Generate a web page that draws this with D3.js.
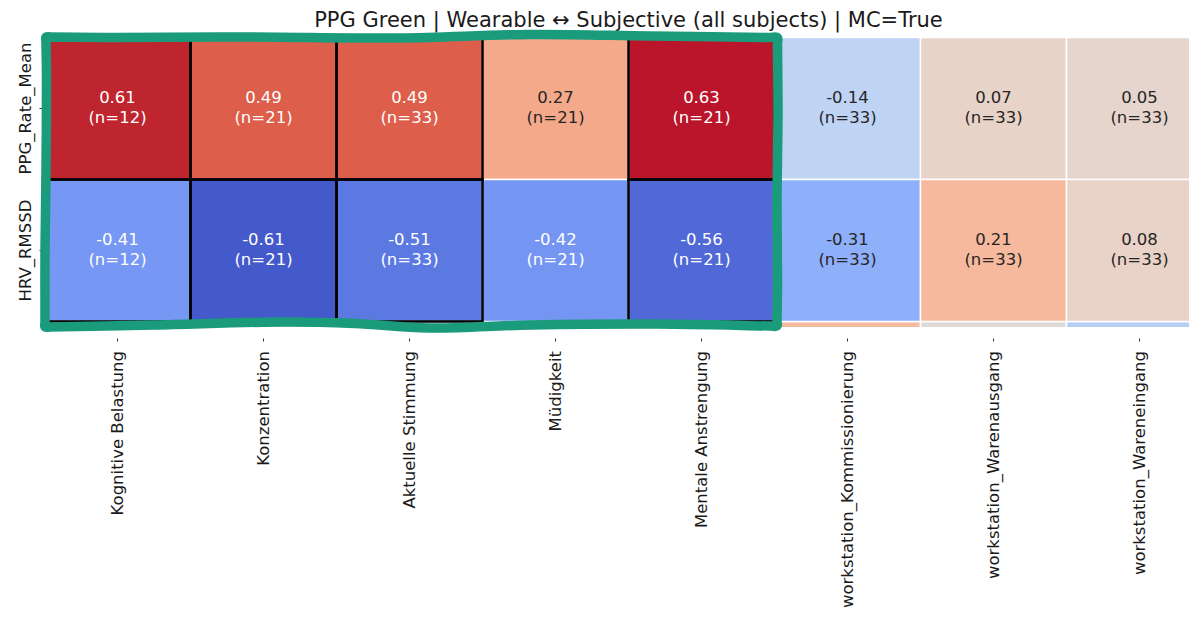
<!DOCTYPE html>
<html>
  <head>
    <title>PPG Green heatmap</title>
    <script src="https://d3js.org/d3.v7.min.js"></script>
    <style>
        body { margin: 0; background: #fff; }
        text { font-family: "DejaVu Sans", sans-serif; }
    </style>
  </head>
  <body>
    <svg id="heat" width="1189" height="617"></svg>
  </body>
  <script type="text/javascript">
    var title = "PPG Green | Wearable \u2194 Subjective (all subjects) | MC=True";
    var cols = ["Kognitive Belastung", "Konzentration", "Aktuelle Stimmung", "M\u00fcdigkeit",
                "Mentale Anstrengung", "workstation_Kommissionierung", "workstation_Warenausgang",
                "workstation_Wareneingang"];
    var rows = ["PPG_Rate_Mean", "HRV_RMSSD"];
    var rateR = [0.61, 0.49, 0.49, 0.27, 0.63, -0.14, 0.07, 0.05];
    var rateN = [12, 21, 33, 21, 21, 33, 33, 33];
    var rmssdR = [-0.41, -0.61, -0.51, -0.42, -0.56, -0.31, 0.21, 0.08];
    var rmssdN = [12, 21, 33, 21, 21, 33, 33, 33];
    var sigCols = ["Kognitive Belastung", "Konzentration", "Aktuelle Stimmung", "Mentale Anstrengung"];
    var boxCols = cols.slice(0, 5);
    // top of the next (cut off) row, only visible on the right
    var nextRowR = [null, null, null, null, null, 0.2, 0.0, -0.17];

    // coolwarm-like colour stops
    var cmapStops = [-0.65, -0.55, -0.42, -0.3, -0.14, 0, 0.1, 0.21, 0.27, 0.49, 0.61, 0.65];
    var cmapColors = ["#3b4cc0", "#526cd9", "#7495f2", "#90b1fa", "#bfd3f5", "#e0dad6",
                      "#ebd0c3", "#f6b99d", "#f5a98b", "#dc5e4b", "#bf252f", "#b40426"];

    var data = [];
    rows.forEach(function(r, i){
        var vals = i === 0 ? rateR : rmssdR;
        var ns = i === 0 ? rateN : rmssdN;
        cols.forEach(function(c, j){
            data.push({row: r, col: c, r: vals[j], n: ns[j], sig: sigCols.indexOf(c) >= 0});
        });
    });

    var svg = d3.select("#heat");

    var x = d3.scaleBand().domain(cols).range([44.5, 44.5 + 146 * cols.length]);
    var y = d3.scaleBand().domain(rows).range([37.5, 321.5]);
    var color = d3.scaleLinear().domain(cmapStops).range(cmapColors).clamp(true);

    function lum(c){
        var rgb = d3.rgb(c);
        function lin(v){ v = v / 255; return v <= 0.03928 ? v / 12.92 : Math.pow((v + 0.055) / 1.055, 2.4); }
        return 0.2126 * lin(rgb.r) + 0.7152 * lin(rgb.g) + 0.0722 * lin(rgb.b);
    }

    svg.append("text")
        .attr("x", (x.range()[0] + x.range()[1]) / 2)
        .attr("y", 27)
        .attr("text-anchor", "middle")
        .style("font-size", "21px")
        .style("fill", "#1a1a1a")
        .text(title);

    svg.append("clipPath").attr("id", "clip")
      .append("rect").attr("x", 0).attr("y", 0).attr("width", 1189).attr("height", 327);

    var cells = svg.append("g").attr("clip-path", "url(#clip)");

    // strip of the next row
    cells.selectAll("rect.next")
        .data(cols.map(function(c, j){ return {col: c, r: nextRowR[j]}; })
                  .filter(function(d){ return d.r !== null; }))
        .enter()
        .append("rect")
          .attr("class", "next")
          .attr("x", function(d){ return x(d.col); })
          .attr("y", y.range()[1])
          .attr("width", x.bandwidth())
          .attr("height", y.bandwidth())
          .style("fill", function(d){ return color(d.r); })
          .style("stroke", "#fff")
          .style("stroke-width", 1.5);

    cells.selectAll("rect.cell")
        .data(data)
        .enter()
        .append("rect")
          .attr("class", "cell")
          .attr("x", function(d){ return x(d.col); })
          .attr("y", function(d){ return y(d.row); })
          .attr("width", x.bandwidth())
          .attr("height", y.bandwidth())
          .style("fill", function(d){ return color(d.r); })
          .style("stroke", "#fff")
          .style("stroke-width", 1.5);

    // black outline on significant cells
    svg.selectAll("rect.sig")
        .data(data.filter(function(d){ return d.sig; }))
        .enter()
        .append("rect")
          .attr("class", "sig")
          .attr("x", function(d){ return x(d.col); })
          .attr("y", function(d){ return y(d.row); })
          .attr("width", x.bandwidth())
          .attr("height", y.bandwidth())
          .style("fill", "none")
          .style("stroke", "#000")
          .style("stroke-width", 2.5);

    var labels = svg.selectAll("g.lab")
        .data(data)
        .enter()
        .append("g")
          .attr("class", "lab")
          .attr("transform", function(d){
              return "translate(" + (x(d.col) + x.bandwidth() / 2) + "," + (y(d.row) + y.bandwidth() / 2) + ")";
          })
          .style("fill", function(d){ return lum(color(d.r)) < 0.408 ? "#ffffff" : "#262626"; })
          .style("font-size", "16.5px")
          .attr("text-anchor", "middle");
    labels.append("text").attr("y", -6).text(function(d){ return d.r.toFixed(2); });
    labels.append("text").attr("y", 14).text(function(d){ return "(n=" + d.n + ")"; });

    // ticks and axis labels
    svg.selectAll("line.yt")
        .data(rows).enter().append("line")
          .attr("x1", 39.5).attr("x2", 43)
          .attr("y1", function(d){ return y(d) + y.bandwidth() / 2; })
          .attr("y2", function(d){ return y(d) + y.bandwidth() / 2; })
          .style("stroke", "#333").style("stroke-width", 1);
    svg.selectAll("text.ylab")
        .data(rows).enter().append("text")
          .attr("class", "ylab")
          .attr("transform", function(d){ return "translate(25," + (y(d) + y.bandwidth() / 2) + ") rotate(-90)"; })
          .attr("text-anchor", "middle")
          .attr("dy", "0.35em")
          .style("font-size", "16.5px")
          .style("fill", "#1a1a1a")
          .text(function(d){ return d; });

    svg.selectAll("line.xt")
        .data(cols).enter().append("line")
          .attr("x1", function(d){ return x(d) + x.bandwidth() / 2; })
          .attr("x2", function(d){ return x(d) + x.bandwidth() / 2; })
          .attr("y1", 338.5).attr("y2", 341.5)
          .style("stroke", "#333").style("stroke-width", 1);
    svg.selectAll("text.xlab")
        .data(cols).enter().append("text")
          .attr("class", "xlab")
          .attr("transform", function(d){ return "translate(" + (x(d) + x.bandwidth() / 2) + ",351) rotate(-90)"; })
          .attr("text-anchor", "end")
          .attr("dy", "0.35em")
          .style("font-size", "16.5px")
          .style("fill", "#1a1a1a")
          .text(function(d){ return d; });

    // hand-drawn green box round the first five columns
    var L = x(boxCols[0]), R = x(boxCols[boxCols.length - 1]) + x.bandwidth();
    var T = y.range()[0], B = y.range()[1];
    var wobble = [
        [L + 1.5, T - 0.5], [L + 6, T - 0.5], [L + 75, T], [L + 205, T - 0.5], [L + 355, T + 0.5],
        [L + 485, T - 3], [L + 605, T - 1.5], [R - 6, T], [R + 3, T],
        [R + 3, T + 6], [R + 3.5, T + 80], [R + 2.5, T + 160], [R + 3, B - 40], [R + 2.5, B], [R + 2.5, B + 4.5],
        [R - 4, B + 4.5], [R - 116, B + 2.5], [R - 244, B + 3.5], [R - 346, B + 6.5], [R - 420, B + 2],
        [R - 490, B + 0.5], [R - 620, B + 3.5], [L + 6, B + 5.5], [L + 0.5, B + 5.5],
        [L + 0.5, B], [L + 0.5, B - 70], [L + 1.5, T + 130], [L + 2, T + 40], [L + 1.5, T + 5]
    ];
    svg.append("path")
        .attr("d", d3.line().curve(d3.curveCatmullRomClosed.alpha(0.5))(wobble))
        .style("fill", "none")
        .style("stroke", "#1a9b7b")
        .style("stroke-width", 9.5)
        .style("stroke-linejoin", "round");
  </script>
</html>
